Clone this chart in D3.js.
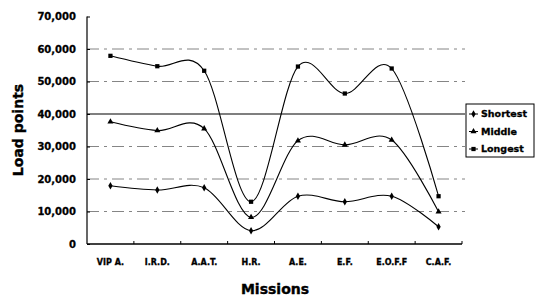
<!DOCTYPE html>
<html>
<head>
<meta charset="utf-8">
<script src="https://cdn.jsdelivr.net/npm/d3@7"></script>
<style>
  body { margin: 0; background: #fff; }
  text { font-family: "DejaVu Sans", sans-serif; font-weight: bold; fill: #000; }
</style>
</head>
<body>
<svg id="chart" width="541" height="296"></svg>
<script>
// Data
const missions = ["VIP A.", "I.R.D.", "A.A.T.", "H.R.", "A.E.", "E.F.", "E.O.F.F", "C.A.F."];
const shortest = [17900, 16600, 17300, 4100, 14700, 13000, 14700, 5300];
const middle = [37600, 34900, 35500, 8200, 31800, 30500, 32000, 9900];
const longest = [57900, 54700, 53300, 13000, 54600, 46300, 54000, 14700];
const seriesNames = ["Shortest", "Middle", "Longest"];
const yTicks = [0, 10000, 20000, 30000, 40000, 50000, 60000, 70000];

const series = [
  { name: "Shortest", values: shortest, symbol: d3.symbolDiamond, size: 16 },
  { name: "Middle", values: middle, symbol: d3.symbolTriangle, size: 16 },
  { name: "Longest", values: longest, symbol: d3.symbolSquare, size: 18 }
];

const svg = d3.select("#chart");

const margin = { left: 87, right: 79, top: 16.5, bottom: 52 };
const width = 541 - margin.left - margin.right;   // 375
const height = 296 - margin.top - margin.bottom;  // 227.5

const g = svg.append("g").attr("transform", `translate(${margin.left},${margin.top})`);

const x = d3.scaleBand().domain(missions).range([0, width]);
const y = d3.scaleLinear().domain([0, 70000]).range([height, 0]);

// Gridlines
g.selectAll(".grid")
  .data(yTicks.filter(t => t > 0 && t < 70000))
  .join("line")
  .attr("x1", 0)
  .attr("x2", width + 3)
  .attr("y1", d => y(d))
  .attr("y2", d => y(d))
  .attr("stroke", d => d === 40000 ? "#000" : "#666")
  .attr("stroke-width", d => d === 40000 ? 1.1 : 0.8)
  .attr("stroke-dasharray", d => d === 40000 ? null : "12,5,3,5");

// Y axis
const yAxis = g.append("g")
  .call(d3.axisLeft(y).tickValues(yTicks).tickSize(-3).tickPadding(11)
    .tickFormat(d3.format(",")));
yAxis.select(".domain").attr("d", `M0,0V${height}`).attr("stroke", "#000").attr("stroke-width", 1.2);
yAxis.selectAll("text").style("font-size", "10px").attr("stroke", "#000").attr("stroke-width", 0.3);

// X axis
const xAxis = g.append("g")
  .attr("transform", `translate(0,${height})`)
  .call(d3.axisBottom(x).tickSize(0).tickPadding(15));
xAxis.select(".domain").attr("d", `M0,0H${width}`).attr("stroke", "#000").attr("stroke-width", 1.5);
xAxis.selectAll("text").style("font-size", "8px").attr("stroke", "#000").attr("stroke-width", 0.3);

// Upward ticks at band boundaries
g.selectAll(".xtick")
  .data(missions)
  .join("line")
  .attr("x1", d => x(d) + x.bandwidth())
  .attr("x2", d => x(d) + x.bandwidth())
  .attr("y1", height)
  .attr("y2", height - 3)
  .attr("stroke", "#000");

// Lines
const line = d3.line()
  .x((d, i) => x(missions[i]) + x.bandwidth() / 2)
  .y(d => y(d))
  .curve(d3.curveCardinal.tension(0));

series.forEach(s => {
  g.append("path")
    .datum(s.values)
    .attr("d", line)
    .attr("fill", "none")
    .attr("stroke", "#000")
    .attr("stroke-width", 1.1);

  g.selectAll(null)
    .data(s.values)
    .join("path")
    .attr("transform", (d, i) => `translate(${x(missions[i]) + x.bandwidth() / 2},${y(d)})`)
    .attr("d", d3.symbol().type(s.symbol).size(s.size))
    .attr("fill", "#000");
});

// Axis titles
svg.append("text")
  .attr("transform", "translate(23,130) rotate(-90)")
  .attr("text-anchor", "middle")
  .style("font-size", "14px")
  .attr("stroke", "#000").attr("stroke-width", 0.4)
  .text("Load points");

svg.append("text")
  .attr("x", 275)
  .attr("y", 294)
  .attr("text-anchor", "middle")
  .style("font-size", "14px")
  .attr("stroke", "#000").attr("stroke-width", 0.4)
  .text("Missions");

// Legend
const legend = svg.append("g").attr("transform", "translate(466,104)");
legend.append("rect")
  .attr("width", 68)
  .attr("height", 53)
  .attr("fill", "#fff")
  .attr("stroke", "#000")
  .attr("stroke-width", 1);

const li = legend.selectAll(".li")
  .data(series)
  .join("g")
  .attr("transform", (d, i) => `translate(0,${10 + i * 17.5})`);
li.append("line").attr("x1", 3).attr("x2", 12).attr("stroke", "#000");
li.append("path")
  .attr("transform", "translate(7.5,0)")
  .attr("d", d => d3.symbol().type(d.symbol).size(d.size)())
  .attr("fill", "#000");
li.append("text")
  .attr("x", 15)
  .attr("dy", "0.35em")
  .style("font-size", "9.5px")
  .attr("stroke", "#000").attr("stroke-width", 0.3)
  .text((d, i) => seriesNames[i]);
</script>
</body>
</html>
